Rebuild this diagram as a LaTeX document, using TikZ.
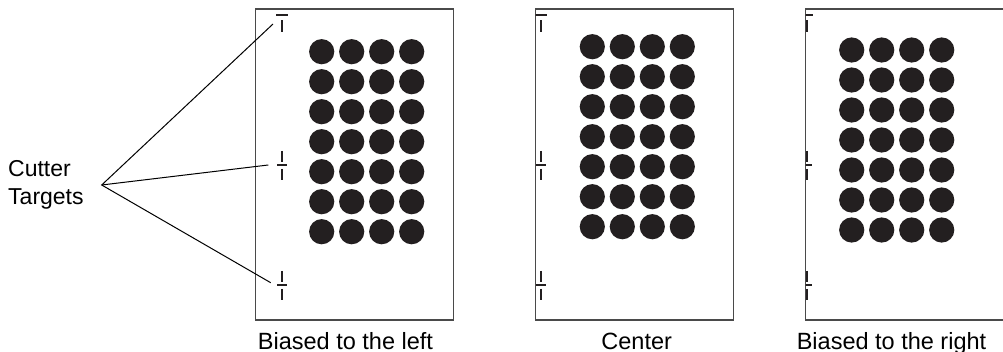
\documentclass[tikz,border=0pt]{standalone}
\usepackage{fontspec}
\setmainfont{Liberation Sans}
\usepackage{xcolor}
\definecolor{ink}{HTML}{231F20}
\definecolor{edge}{HTML}{4A4A4A}
\usetikzlibrary{positioning, calc}

\begin{document}
\begin{tikzpicture}[x=1pt, y=-1pt,
  every node/.style={font=\fontsize{23}{28.4}\selectfont, inner sep=0pt},
  sheetlabel/.style={anchor=base, font=\fontsize{23.5}{28.4}\selectfont},
  sheetbox/.style={draw=edge, line width=1.1pt},
  dotfill/.style={fill=ink},
  tickbar/.style={draw=ink, line width=2.6pt},
  leader/.style={draw=black, line width=1pt}
]
  \def\sw{198}
  \def\sh{311}
  \def\dr{12.6}

  \useasboundingbox (0,0) rectangle (1003,352);

  % Macro to draw one sheet with its dots and cutter targets
  % Args: x_left, first dot x, first dot y, target x, label x, label, name
  \newcommand{\sheet}[7]{%
    \draw[sheetbox] (#1,9) rectangle ++(\sw,\sh);
    \foreach \col in {0,...,3}
      \foreach \row in {0,...,6}
        \fill[dotfill] (#2+30*\col, #3+30*\row) circle (\dr);
    \begin{scope}
      \clip (#1,9) rectangle ++(\sw,\sh);
      \draw[tickbar] (#4-6,15) -- (#4+6,15) (#4,20.5) -- (#4,32.5);
      \foreach \ty in {165,285}
        \draw[tickbar] (#4,\ty-14) -- (#4,\ty-3) (#4-5,\ty) -- (#4+5,\ty)
          (#4,\ty+4) -- (#4,\ty+15.5);
    \end{scope}
    \node[sheetlabel] (#7) at (#5,349) {#6};
  }

  % Three sheets
  \sheet{255.7}{321.7}{51.7}{282}{345.5}{Biased to the left}{leftlbl}
  \sheet{535.7}{592.3}{46.7}{541}{636.7}{Center}{centerlbl}
  \sheet{805.7}{851.7}{50}{807}{891.5}{Biased to the right}{rightlbl}

  % Cutter target callout
  \node[anchor=west, align=left] (cutlbl) at (8,185) {Cutter\\Targets};
  \coordinate (hub) at (101.7,185);
  \coordinate (tgttop) at (273,24);
  \coordinate (tgtmid) at (268.3,165);
  \coordinate (tgtbot) at (270.7,282.7);
  \draw[leader] (tgttop) -- (hub) -- (tgtbot);
  \draw[leader] (hub) -- (tgtmid);
\end{tikzpicture}
\end{document}
